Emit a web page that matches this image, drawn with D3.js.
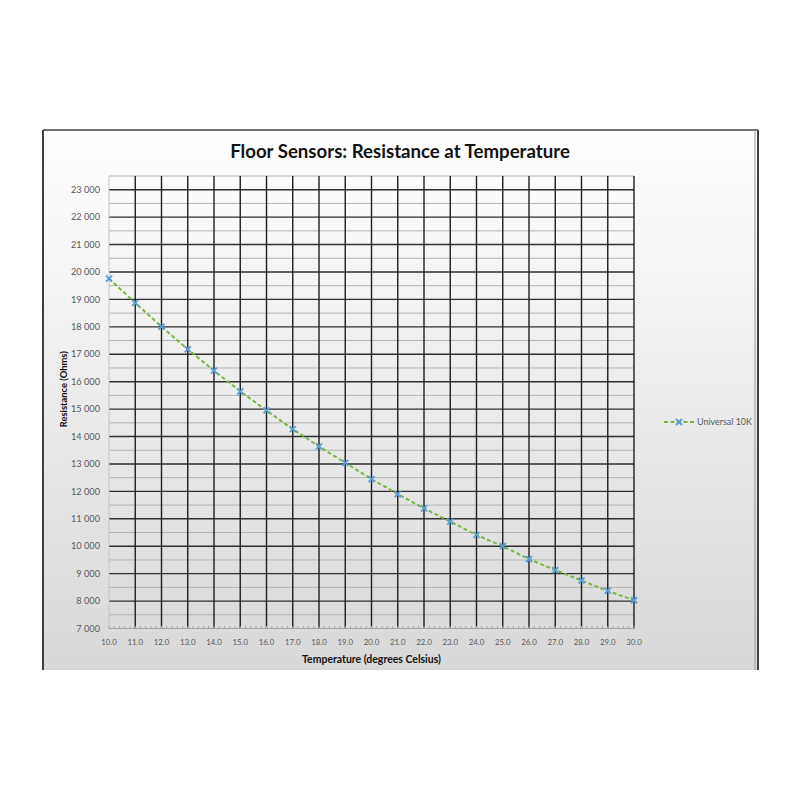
<!DOCTYPE html>
<html>
<head>
<meta charset="utf-8">
<script src="https://cdn.jsdelivr.net/npm/d3@7"></script>
<style>
  html, body { margin: 0; padding: 0; background: #ffffff; }
  svg { display: block; }
</style>
</head>
<body>
<svg id="chart" width="800" height="800"></svg>
<script>
// ---- Data ----
const title = "Floor Sensors: Resistance at Temperature";
const xAxisTitle = "Temperature (degrees Celsius)";
const yAxisTitle = "Resistance (Ohms)";
const seriesName = "Universal 10K";
const temperatures = [10,11,12,13,14,15,16,17,18,19,20,21,22,23,24,25,26,27,28,29,30];
const resistances = [19760,18870,18010,17180,16400,15650,14950,14270,13640,13040,12450,11900,11380,10900,10410,10000,9530,9130,8750,8370,8030];
const yTicks = [7000,8000,9000,10000,11000,12000,13000,14000,15000,16000,17000,18000,19000,20000,21000,22000,23000];
const xTicks = [10,11,12,13,14,15,16,17,18,19,20,21,22,23,24,25,26,27,28,29,30];

// ---- Layout ----
const FONT = "Lato, 'Open Sans', sans-serif";
const svg = d3.select("#chart");
const frame = {x: 43, y: 130, w: 715, h: 540};
const plot = {left: 109, right: 634, top: 176, bottom: 628.5};

// fit font size of a text so it spans a target width
function fit(sel, target) {
  const node = sel.node();
  const fs = parseFloat(sel.attr("font-size"));
  const w = node.getComputedTextLength();
  if (w > 0) sel.attr("font-size", fs * target / w);
  return sel;
}

const defs = svg.append("defs");
const grad = defs.append("linearGradient").attr("id", "bg").attr("x1", 0).attr("y1", 0).attr("x2", 0).attr("y2", 1);
grad.append("stop").attr("offset", "0%").attr("stop-color", "#ffffff");
grad.append("stop").attr("offset", "100%").attr("stop-color", "#d8d8d8");

svg.append("rect").attr("x", frame.x).attr("y", frame.y).attr("width", frame.w).attr("height", frame.h)
  .attr("fill", "url(#bg)");
svg.append("line").attr("x1", frame.x).attr("x2", frame.x + frame.w).attr("y1", frame.y).attr("y2", frame.y)
  .attr("stroke", "#404040").attr("stroke-width", 1.5);
svg.append("line").attr("x1", frame.x).attr("x2", frame.x).attr("y1", frame.y).attr("y2", frame.y + frame.h)
  .attr("stroke", "#404040").attr("stroke-width", 2);
svg.append("line").attr("x1", frame.x + frame.w).attr("x2", frame.x + frame.w).attr("y1", frame.y).attr("y2", frame.y + frame.h)
  .attr("stroke", "#404040").attr("stroke-width", 2);
svg.append("line").attr("x1", frame.x + frame.w - 3).attr("x2", frame.x + frame.w - 3).attr("y1", frame.y).attr("y2", frame.y + frame.h)
  .attr("stroke", "#9a9a9a").attr("stroke-width", 1);

// ---- Scales ----
const x = d3.scaleLinear().domain([10, 30]).range([plot.left, plot.right]);
const y = d3.scaleLinear().domain([7000, 23500]).range([plot.bottom, plot.top]);

const minorY = d3.range(7500, 23501, 1000);
svg.append("g").selectAll("line").data(minorY).join("line")
  .attr("x1", plot.left).attr("x2", plot.right)
  .attr("y1", d => y(d)).attr("y2", d => y(d))
  .attr("stroke", "#b4b4b4").attr("stroke-width", 1);

svg.append("g").selectAll("line").data(yTicks.slice(1)).join("line")
  .attr("x1", plot.left).attr("x2", plot.right)
  .attr("y1", d => y(d)).attr("y2", d => y(d))
  .attr("stroke", "#2e2e2e").attr("stroke-width", 1.4);

svg.append("g").selectAll("line").data(xTicks.slice(1)).join("line")
  .attr("x1", d => x(d)).attr("x2", d => x(d))
  .attr("y1", plot.top).attr("y2", plot.bottom)
  .attr("stroke", "#1e1e1e").attr("stroke-width", 1.4);

svg.append("line").attr("x1", plot.left).attr("x2", plot.left).attr("y1", plot.top).attr("y2", plot.bottom)
  .attr("stroke", "#c4c4c4").attr("stroke-width", 1);

const xAxisG = svg.append("g").attr("transform", `translate(0,${plot.bottom})`);
xAxisG.append("line").attr("x1", plot.left).attr("x2", plot.right).attr("y1", 0).attr("y2", 0)
  .attr("stroke", "#a6a6a6").attr("stroke-width", 1);
const minorX = d3.range(10, 30.0001, 0.2);
xAxisG.selectAll("line.minor").data(minorX).join("line").attr("class", "minor")
  .attr("x1", d => x(d)).attr("x2", d => x(d)).attr("y1", -2.5).attr("y2", 0)
  .attr("stroke", "#a6a6a6").attr("stroke-width", 1);

// tick labels
const yLab = svg.append("g").selectAll("text").data(yTicks).join("text")
  .attr("x", plot.left - 9).attr("y", d => y(d)).attr("dy", "0.35em")
  .attr("text-anchor", "end")
  .attr("font-family", FONT).attr("font-size", 10)
  .attr("fill", "#595959")
  .text(d => d3.format(",")(d).replace(/,/g, " "));
// size from the widest label (target ~28px)
{
  const probe = d3.select(yLab.nodes()[yLab.size() - 1]);
  const w = probe.node().getComputedTextLength();
  yLab.attr("font-size", 10 * 29 / w);
}

const xLab = svg.append("g").selectAll("text").data(xTicks).join("text")
  .attr("x", d => x(d)).attr("y", plot.bottom + 16)
  .attr("text-anchor", "middle")
  .attr("font-family", FONT).attr("font-size", 10)
  .attr("fill", "#595959")
  .text(d => d.toFixed(1));
{
  const w = xLab.node().getComputedTextLength();
  xLab.attr("font-size", 10 * 15.5 / w);
}

// titles
fit(svg.append("text").attr("x", 400).attr("y", 158).attr("text-anchor", "middle")
  .attr("font-family", FONT).attr("font-weight", "bold").attr("font-size", 18)
  .attr("fill", "#111").text(title), 340);

fit(svg.append("text").attr("x", (plot.left + plot.right) / 2).attr("y", 663).attr("text-anchor", "middle")
  .attr("font-family", FONT).attr("font-weight", "bold").attr("font-size", 10)
  .attr("fill", "#111").text(xAxisTitle), 139);

fit(svg.append("text").attr("transform", `translate(67,${(plot.top + plot.bottom) / 2 - 13}) rotate(-90)`)
  .attr("text-anchor", "middle")
  .attr("font-family", FONT).attr("font-weight", "bold").attr("font-size", 10)
  .attr("fill", "#111").text(yAxisTitle), 76);

// ---- Series ----
const data = temperatures.map((t, i) => ({t, r: resistances[i]}));
const line = d3.line().x(d => x(d.t)).y(d => y(d.r));
svg.append("path").datum(data).attr("d", line)
  .attr("fill", "none").attr("stroke", "#77b843").attr("stroke-width", 2)
  .attr("stroke-dasharray", "4,2.5");

const markerPath = "M-3,-3L3,3M-3,3L3,-3";
svg.append("g").selectAll("path").data(data).join("path")
  .attr("transform", d => `translate(${x(d.t)},${y(d.r)})`)
  .attr("d", markerPath).attr("stroke", "#5b9bd5").attr("stroke-width", 1.8).attr("fill", "none");

// ---- Legend ----
const lg = svg.append("g").attr("transform", "translate(664,422)");
lg.append("line").attr("x1", 0).attr("x2", 30).attr("y1", 0).attr("y2", 0)
  .attr("stroke", "#77b843").attr("stroke-width", 2).attr("stroke-dasharray", "4,2.5");
lg.append("path").attr("transform", "translate(15,0)").attr("d", markerPath)
  .attr("stroke", "#5b9bd5").attr("stroke-width", 1.8).attr("fill", "none");
fit(lg.append("text").attr("x", 33).attr("y", 0).attr("dy", "0.35em")
  .attr("font-family", FONT).attr("font-size", 10).attr("fill", "#595959")
  .text(seriesName), 55);
</script>
</body>
</html>
